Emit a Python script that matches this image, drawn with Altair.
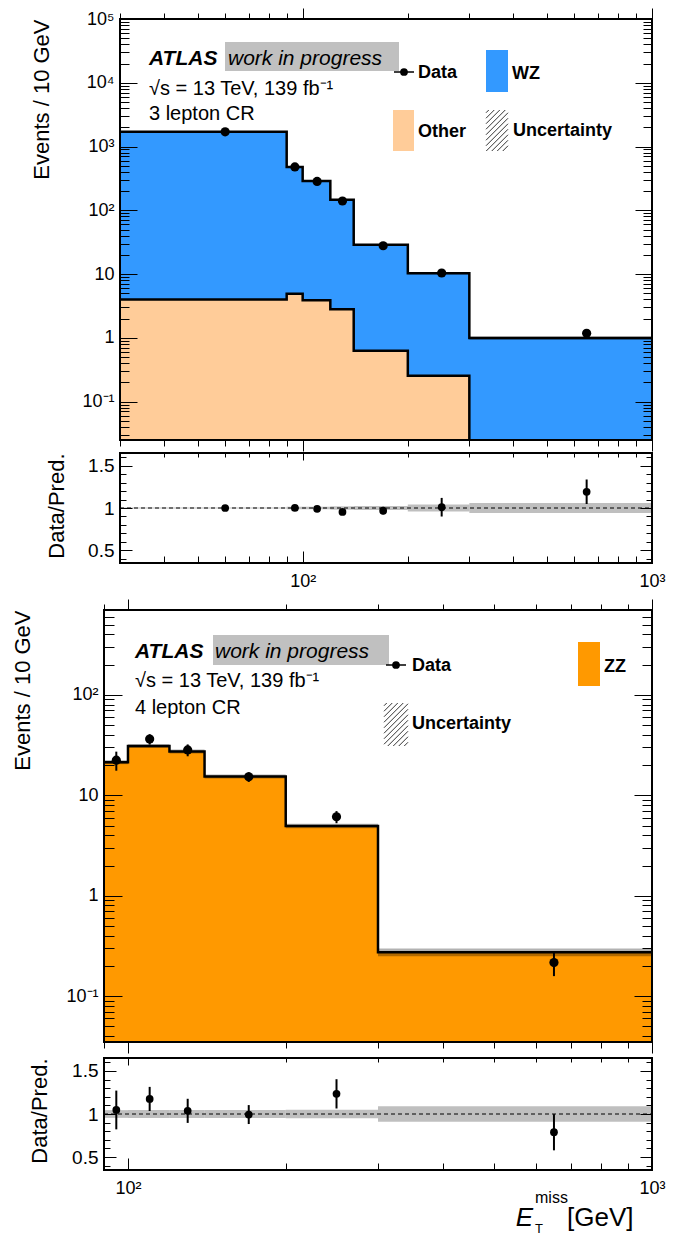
import altair as alt
import pandas as pd

FONT = "Liberation Sans"
BLUE = "#3399ff"
PEACH = "#ffcc99"
ORANGE = "#ff9900"
GREY_BOX = "#c0c0c0"

# ---------------- data: 3 lepton CR ----------------
top_edges = [30, 90, 100, 120, 140, 200, 300, 1000]
top_centers = [60, 95, 110, 130, 170, 250, 650]
top_wz = [1696, 473, 283, 144, 28.1, 10.05, 0.99]
top_other = [4.0, 4.9, 3.9, 2.8, 0.63, 0.254, 0.0]
top_data = [1700, 478, 284, 140, 27.8, 10.4, 1.18]
top_ratio_err = [0.01, 0.02, 0.02, 0.03, 0.045, 0.11, 0.145]
top_unc = [0.005, 0.015, 0.015, 0.02, 0.025, 0.04, 0.06]

# ---------------- data: 4 lepton CR ----------------
bot_edges = [90, 100, 120, 140, 200, 300, 1000]
bot_centers = [95, 110, 130, 170, 250, 650]
bot_zz = [21.4, 30.9, 27.3, 15.4, 4.96, 0.274]
bot_data = [22.4, 36.3, 28.3, 15.3, 6.12, 0.216]
bot_ratio_err = [0.225, 0.14, 0.14, 0.11, 0.17, 0.21]
bot_unc = [0.045, 0.045, 0.045, 0.045, 0.05, 0.09]

# ---------------- axis labels ----------------
x_label_ticks = [100, 1000]
top_y_labels = [0.1, 1, 10, 100, 1000, 10000, 100000]
bot_y_labels = [0.1, 1, 10, 100]
ratio_labels = [0.5, 1, 1.5]
ratio_ticks = [0.4, 0.5, 0.6, 0.7, 0.8, 0.9, 1.0, 1.1, 1.2, 1.3, 1.4, 1.5, 1.6]

TOP_XDOM, TOP_YDOM = [30, 1000], [0.025, 100000]
BOT_XDOM, BOT_YDOM = [90, 1000], [0.035, 700]
RATIO_DOM = [0.35, 1.65]

VW = 548            # view width of every panel
TOFF, BOFF = 16, 0  # left edge of the plot frame inside the view
TH, TRH = 421, 110
BH, BRH = 432, 112

LOG_MAJOR = "abs(log(datum.value)/LN10 - round(log(datum.value)/LN10)) < 0.000001"
RATIO_MAJOR = "abs(datum.value*2 - round(datum.value*2)) < 0.000001"
YLOG_EXPR = ("datum.value == 1 ? '1' : datum.value == 10 ? '10' : '10' + "
             "['⁻¹','⁰','¹','²','³','⁴','⁵'][round(log(datum.value)/LN10) + 1]")
X_EXPR = "datum.value == 100 ? '10²' : '10³'"
RATIO_EXPR = "datum.value == 1 ? '1' : format(datum.value, '.1f')"


def log_ticks(lo, hi):
    out = []
    for e in range(-3, 6):
        for m in range(1, 10):
            v = round(m * 10 ** e, 8)
            if lo <= v <= hi:
                out.append(v)
    return out


def bins_frame(edges, centers, comps, data, rerr, unc):
    total = [sum(c) for c in zip(*comps)]
    rows = []
    for i in range(len(centers)):
        t, d = total[i], data[i]
        r = d / t
        rows.append(dict(lo=edges[i], hi=edges[i + 1], c=centers[i], total=t, data=d,
                         ratio=r, d_lo=d - rerr[i] * t, d_hi=d + rerr[i] * t,
                         r_lo=r - rerr[i], r_hi=r + rerr[i],
                         u_lo=t * (1 - unc[i]), u_hi=t * (1 + unc[i]),
                         ru_lo=1 - unc[i], ru_hi=1 + unc[i]))
    return pd.DataFrame(rows)


def step_frame(edges, vals, floor):
    n = len(vals)
    last = max(i for i in range(n) if vals[i] > 0)
    xs = list(edges[:last + 1])
    ys = list(vals[:last + 1])
    xs.append(edges[last + 1])
    ys.append(vals[last] if last == n - 1 else floor)
    return pd.DataFrame({"x": xs, "y": ys})


def hist(edges, vals, floor, xs, ys, color):
    df = step_frame(edges, vals, floor)
    enc = dict(x=alt.X("x:Q", scale=xs, axis=None), y=alt.Y("y:Q", scale=ys, axis=None))
    area = alt.Chart(df).mark_area(interpolate="step-after", color=color, opacity=1,
                                   clip=True).encode(y2=alt.datum(floor), **enc)
    line = alt.Chart(df).mark_line(interpolate="step-after", color="black",
                                   strokeWidth=2.5, clip=True).encode(**enc)
    return area, line


def hatch_layer(H, x0, x1, y0, y1, step=5.5):
    rows = []
    c = x0 + y0 + step / 2
    while c < x1 + y1:
        xa = max(x0, c - y1)
        xb = min(x1, c - y0)
        if xb - xa > 0.5:
            rows.append(dict(x=xa, y=c - xa, x2=xb, y2=c - xb))
        c += step
    px = alt.Scale(domain=[0, VW], nice=False, zero=False)
    py = alt.Scale(domain=[H, 0], nice=False, zero=False)
    return alt.Chart(pd.DataFrame(rows)).mark_rule(color="#333333", strokeWidth=1).encode(
        x=alt.X("x:Q", scale=px, axis=None), x2="x2:Q",
        y=alt.Y("y:Q", scale=py, axis=None), y2="y2:Q")


def text(t, x, y, size, weight="normal", style="normal", align="left"):
    return alt.Chart(pd.DataFrame({"t": [t]})).mark_text(
        align=align, baseline="alphabetic", font=FONT, fontSize=size,
        fontWeight=weight, fontStyle=style, color="black").encode(
        x=alt.value(x), y=alt.value(y), text="t:N")


def box(x, x2, y, y2, color):
    return alt.Chart(pd.DataFrame({"a": [0]})).mark_rect(color=color).encode(
        x=alt.value(x), x2=alt.value(x2), y=alt.value(y), y2=alt.value(y2))


def frame(x0, H):
    return alt.Chart(pd.DataFrame({"a": [0]})).mark_rect(
        fillOpacity=0, stroke="black", strokeWidth=2).encode(
        x=alt.value(x0), x2=alt.value(VW), y=alt.value(0), y2=alt.value(H))


def tick_ax(orient, offset, values, test, lens):
    return alt.Axis(orient=orient, offset=offset, values=values, labels=False,
                    domain=False, grid=False, title=None, ticks=True,
                    tickColor="black", tickWidth=1,
                    tickSize={"condition": {"test": test, "value": lens[0]}, "value": lens[1]},
                    minExtent=0, maxExtent=lens[0], zindex=1)


def axis_layers(df, xcol, ycol, xs, ys, x0, H, x_ticks, y_ticks, y_test, y_labels,
                y_expr, y_title, title_x, extent, y_len, ratio, lab_size):
    ghost = alt.Chart(df).mark_point(opacity=0)
    ylab = alt.Axis(orient="left", offset=-x0, values=y_labels, labelExpr=y_expr,
                    labelFontSize=lab_size, labelPadding=6, ticks=False, tickSize=0,
                    domain=False, grid=False, labelOverlap=False,
                    title=y_title, titleFontSize=22, titleFontWeight="normal",
                    titleAnchor="end", titleX=title_x,
                    minExtent=extent, maxExtent=extent)
    if ratio:
        xa = alt.Axis(orient="bottom", values=x_label_ticks, labelExpr=X_EXPR,
                      labelFontSize=18, labelPadding=9, ticks=False, tickSize=0,
                      domain=False, grid=False, title=None, labelFlush=False,
                      labelOverlap=False, minExtent=0)
        xb = tick_ax("top", -H, x_ticks, LOG_MAJOR, (12, 7))
        xc = tick_ax("bottom", -H, x_ticks, LOG_MAJOR, (7, 4))
    else:
        xa = tick_ax("bottom", 0, x_ticks, LOG_MAJOR, (11, 6))
        xb = tick_ax("top", 0, x_ticks, LOG_MAJOR, (11, 6))
        xc = None
    la = ghost.encode(x=alt.X(xcol, type="quantitative", scale=xs, axis=xa),
                      y=alt.Y(ycol, type="quantitative", scale=ys, axis=ylab))
    lb = ghost.encode(x=alt.X(xcol, type="quantitative", scale=xs, axis=xb),
                      y=alt.Y(ycol, type="quantitative", scale=ys,
                              axis=tick_ax("right", x0 - VW, y_ticks, y_test, y_len)))
    lc = ghost.encode(x=alt.X(xcol, type="quantitative", scale=xs, axis=xc),
                      y=alt.Y(ycol, type="quantitative", scale=ys,
                              axis=tick_ax("left", -VW, y_ticks, y_test, y_len)))
    return [la, lb, lc]


def data_layers(df, xs, ys, ycol, lo, hi, size):
    err = alt.Chart(df).mark_rule(color="black", strokeWidth=2, clip=True).encode(
        x=alt.X("c:Q", scale=xs, axis=None),
        y=alt.Y(lo + ":Q", scale=ys, axis=None), y2=hi + ":Q")
    pts = alt.Chart(df).mark_circle(color="black", opacity=1, size=size, clip=True).encode(
        x=alt.X("c:Q", scale=xs, axis=None), y=alt.Y(ycol + ":Q", scale=ys, axis=None))
    return [err, pts]


def ratio_panel(df, xs, x0, H, extent, title_x):
    ys = alt.Scale(domain=RATIO_DOM, nice=False, zero=False)
    band = alt.Chart(df).mark_rect(color="#8a8a8a", opacity=0.55, clip=True).encode(
        x=alt.X("lo:Q", scale=xs, axis=None), x2="hi:Q",
        y=alt.Y("ru_lo:Q", scale=ys, axis=None), y2="ru_hi:Q")
    one = alt.Chart(pd.DataFrame({"a": [0]})).mark_rule(
        color="black", strokeWidth=1, strokeDash=[4, 3]).encode(
        x=alt.value(x0), x2=alt.value(VW), y=alt.YDatum(1, scale=ys, axis=None))
    layers = axis_layers(df, "c", "ratio", xs, ys, x0, H, log_ticks(*xs.domain), ratio_ticks,
                         RATIO_MAJOR, ratio_labels, RATIO_EXPR, "Data/Pred.", title_x,
                         extent, (12, 6), True, 19)
    layers += [band, one] + data_layers(df, xs, ys, "ratio", "r_lo", "r_hi", 60) + [frame(x0, H)]
    return layers


def resolved(layers, H):
    return alt.layer(*layers).resolve_scale(x="independent", y="independent").resolve_axis(
        x="independent", y="independent").properties(width=VW, height=H)


# ================= top: 3 lepton CR =================
bt = bins_frame(top_edges, top_centers, [top_wz, top_other], top_data, top_ratio_err, top_unc)
xs_t = alt.Scale(type="log", domain=TOP_XDOM, nice=False, range=[TOFF, VW])
ys_t = alt.Scale(type="log", domain=TOP_YDOM, nice=False)

t_total_area, t_total_line = hist(top_edges, [w + o for w, o in zip(top_wz, top_other)],
                                  TOP_YDOM[0], xs_t, ys_t, BLUE)
t_other_area, t_other_line = hist(top_edges, top_other, TOP_YDOM[0], xs_t, ys_t, PEACH)
t_band = alt.Chart(bt).mark_rect(color="black", opacity=0.3, clip=True).encode(
    x=alt.X("lo:Q", scale=xs_t, axis=None), x2="hi:Q",
    y=alt.Y("u_lo:Q", scale=ys_t, axis=None), y2="u_hi:Q")
o = TOFF
t_ann = [
    box(o + 105, o + 279, 23, 52, GREY_BOX),
    text("ATLAS", o + 29, 46, 21, "bold", "italic"),
    text("work in progress", o + 108, 46, 21, "normal", "italic"),
    text("√s = 13 TeV, 139 fb⁻¹", o + 29, 76, 20),
    text("3 lepton CR", o + 29, 101, 20),
    alt.Chart(pd.DataFrame({"a": [0]})).mark_rule(color="black", strokeWidth=1.5).encode(
        x=alt.value(o + 274), x2=alt.value(o + 294), y=alt.value(53)),
    alt.Chart(pd.DataFrame({"a": [0]})).mark_circle(color="black", opacity=1, size=60).encode(
        x=alt.value(o + 284), y=alt.value(53)),
    text("Data", o + 298, 59, 18, "bold"),
    box(o + 366, o + 388, 31, 73, BLUE),
    text("WZ", o + 392, 60, 18, "bold"),
    box(o + 273, o + 294, 91, 132, PEACH),
    text("Other", o + 298, 118, 18, "bold"),
    hatch_layer(TH, o + 366, o + 388, 91, 132),
    text("Uncertainty", o + 393, 117, 18, "bold"),
]
top_main = resolved(
    axis_layers(bt, "c", "data", xs_t, ys_t, TOFF, TH, log_ticks(*TOP_XDOM),
                log_ticks(*TOP_YDOM), LOG_MAJOR, top_y_labels, YLOG_EXPR,
                "Events / 10 GeV", -67, 107, (17, 9), False, 18)
    + [t_total_area, t_other_area, t_band, t_total_line, t_other_line]
    + data_layers(bt, xs_t, ys_t, "data", "d_lo", "d_hi", 85)
    + t_ann + [frame(TOFF, TH)], TH)

top_ratio = resolved(ratio_panel(bt, xs_t, TOFF, TRH, 107, -52), TRH)

# ================= bottom: 4 lepton CR =================
bb = bins_frame(bot_edges, bot_centers, [bot_zz], bot_data, bot_ratio_err, bot_unc)
xs_b = alt.Scale(type="log", domain=BOT_XDOM, nice=False, range=[BOFF, VW])
ys_b = alt.Scale(type="log", domain=BOT_YDOM, nice=False)

b_area, b_line = hist(bot_edges, bot_zz, BOT_YDOM[0], xs_b, ys_b, ORANGE)
b_band = alt.Chart(bb).mark_rect(color="black", opacity=0.3, clip=True).encode(
    x=alt.X("lo:Q", scale=xs_b, axis=None), x2="hi:Q",
    y=alt.Y("u_lo:Q", scale=ys_b, axis=None), y2="u_hi:Q")
b_ann = [
    box(109, 285, 25, 55, GREY_BOX),
    text("ATLAS", 31, 48, 21, "bold", "italic"),
    text("work in progress", 111, 48, 21, "normal", "italic"),
    text("√s = 13 TeV, 139 fb⁻¹", 31, 77, 20),
    text("4 lepton CR", 31, 104, 20),
    alt.Chart(pd.DataFrame({"a": [0]})).mark_rule(color="black", strokeWidth=1.5).encode(
        x=alt.value(282), x2=alt.value(302), y=alt.value(55)),
    alt.Chart(pd.DataFrame({"a": [0]})).mark_circle(color="black", opacity=1, size=60).encode(
        x=alt.value(292), y=alt.value(55)),
    text("Data", 308, 61, 18, "bold"),
    box(474, 496, 32, 76, ORANGE),
    text("ZZ", 500, 62, 18, "bold"),
    hatch_layer(BH, 280, 304, 93, 136),
    text("Uncertainty", 308, 119, 18, "bold"),
]
bot_main = resolved(
    axis_layers(bb, "c", "data", xs_b, ys_b, BOFF, BH, log_ticks(*BOT_XDOM),
                log_ticks(*BOT_YDOM), LOG_MAJOR, bot_y_labels, YLOG_EXPR,
                "Events / 10 GeV", -70, 91, (18, 10), False, 18)
    + [b_area, b_band, b_line]
    + data_layers(bb, xs_b, ys_b, "data", "d_lo", "d_hi", 85)
    + b_ann + [frame(BOFF, BH)], BH)

x_title = [
    text("[GeV]", 463, 168, 26),
    text("E", 429, 168, 26, "normal", "italic", align="right"),
    text("miss", 431, 145, 16),
    text("T", 431, 175, 13),
]
bot_ratio = resolved(ratio_panel(bb, xs_b, BOFF, BRH, 91, -53) + x_title, BRH)

top_block = alt.vconcat(top_main, top_ratio, spacing=0)
bot_block = alt.vconcat(bot_main, bot_ratio, spacing=3)

chart = alt.vconcat(top_block, bot_block, spacing=8).properties(
    padding={"left": 10, "top": 7, "right": 0, "bottom": 0}
).configure_view(strokeWidth=0).configure_axis(
    labelFont=FONT, titleFont=FONT, labelColor="black", titleColor="black")

chart.save("out.html", embed_options={"renderer": "svg", "actions": False})
